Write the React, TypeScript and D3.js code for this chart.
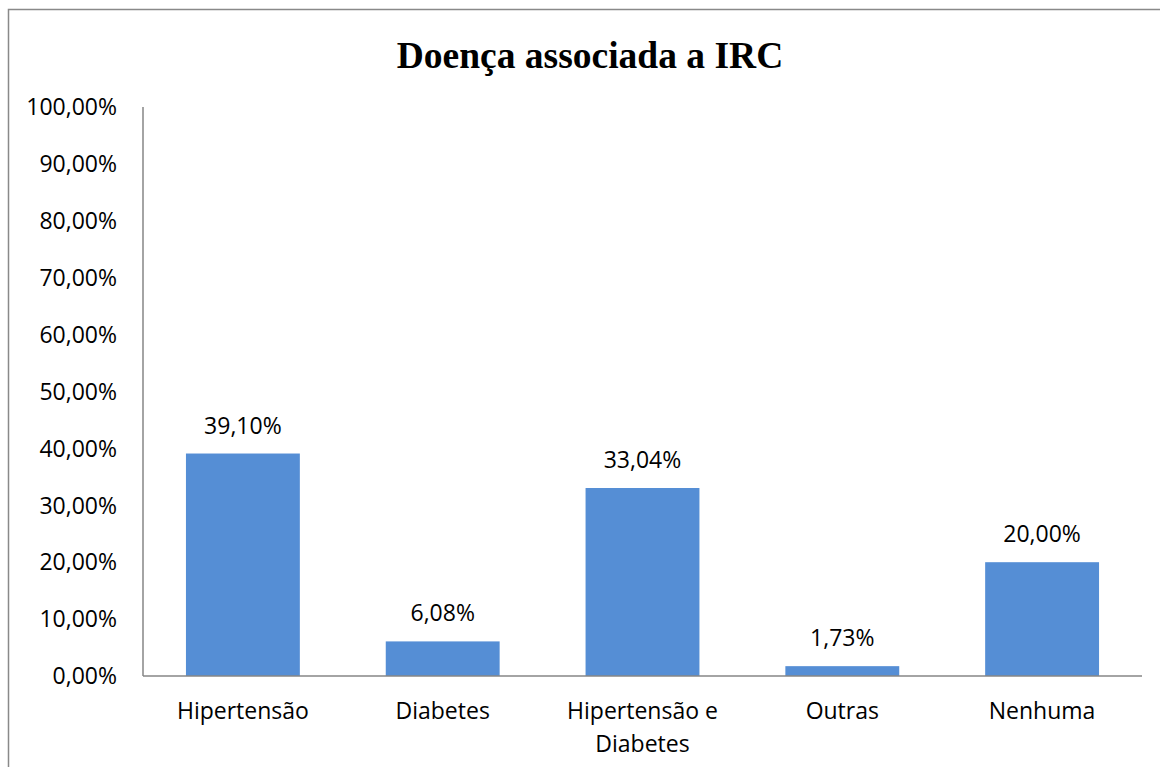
import React from "react";
import * as d3 from "d3";

const categories: string[][] = [
  ["Hipertensão"],
  ["Diabetes"],
  ["Hipertensão e", "Diabetes"],
  ["Outras"],
  ["Nenhuma"],
];
const values: number[] = [39.1, 6.08, 33.04, 1.73, 20.0];
const valueLabels: string[] = ["39,10%", "6,08%", "33,04%", "1,73%", "20,00%"];
const yTicks: number[] = [0, 10, 20, 30, 40, 50, 60, 70, 80, 90, 100];
const title = "Doença associada a IRC";

const W = 1160;
const H = 767;
const left = 143;
const right = 1142;
const top = 107;
const bottom = 676;
const font = "'Open Sans', sans-serif";

export default function App() {
  const keys = categories.map((c, i) => String(i));
  const x = d3
    .scaleBand<string>()
    .domain(keys)
    .range([left, right])
    .paddingInner(0.43)
    .paddingOuter(0.215);
  const y = d3.scaleLinear().domain([0, 100]).range([bottom, top]);
  const fmt = (v: number) => d3.format(".2f")(v).replace(".", ",") + "%";

  return (
    <svg
      width={W}
      height={H}
      style={{ position: "absolute", left: 0, top: 0, background: "#fff" }}
    >
      <rect x={8.5} y={9.5} width={W + 20} height={H + 20} fill="#fff" stroke="#898989" strokeWidth={1.5} />
      <text
        x={590}
        y={68}
        textAnchor="middle"
        fontFamily="'Liberation Serif', 'Times New Roman', serif"
        fontWeight="bold"
        fontSize={37.5}
        fill="#000"
      >
        {title}
      </text>
      {yTicks.map((t) => (
        <text
          key={t}
          x={117}
          y={y(t)}
          dy="0.36em"
          textAnchor="end"
          fontFamily={font}
          fontSize={23}
          fill="#000"
        >
          {fmt(t)}
        </text>
      ))}
      {values.map((v, i) => (
        <rect
          key={i}
          x={x(keys[i])}
          y={y(v)}
          width={x.bandwidth()}
          height={bottom - y(v)}
          fill="#558ED5"
        />
      ))}
      {values.map((v, i) => (
        <text
          key={i}
          x={(x(keys[i]) as number) + x.bandwidth() / 2}
          y={y(v) - 20}
          textAnchor="middle"
          fontFamily={font}
          fontSize={23}
          fill="#000"
        >
          {valueLabels[i]}
        </text>
      ))}
      <line x1={left} x2={left} y1={top} y2={bottom} stroke="#868686" strokeWidth={1.5} />
      <line x1={left} x2={right} y1={bottom} y2={bottom} stroke="#868686" strokeWidth={1.5} />
      {categories.map((lines, i) => (
        <text
          key={i}
          x={(x(keys[i]) as number) + x.bandwidth() / 2}
          y={719}
          textAnchor="middle"
          fontFamily={font}
          fontSize={23}
          fill="#000"
        >
          {lines.map((l, j) => (
            <tspan key={j} x={(x(keys[i]) as number) + x.bandwidth() / 2} dy={j === 0 ? 0 : 33}>
              {l}
            </tspan>
          ))}
        </text>
      ))}
    </svg>
  );
}
